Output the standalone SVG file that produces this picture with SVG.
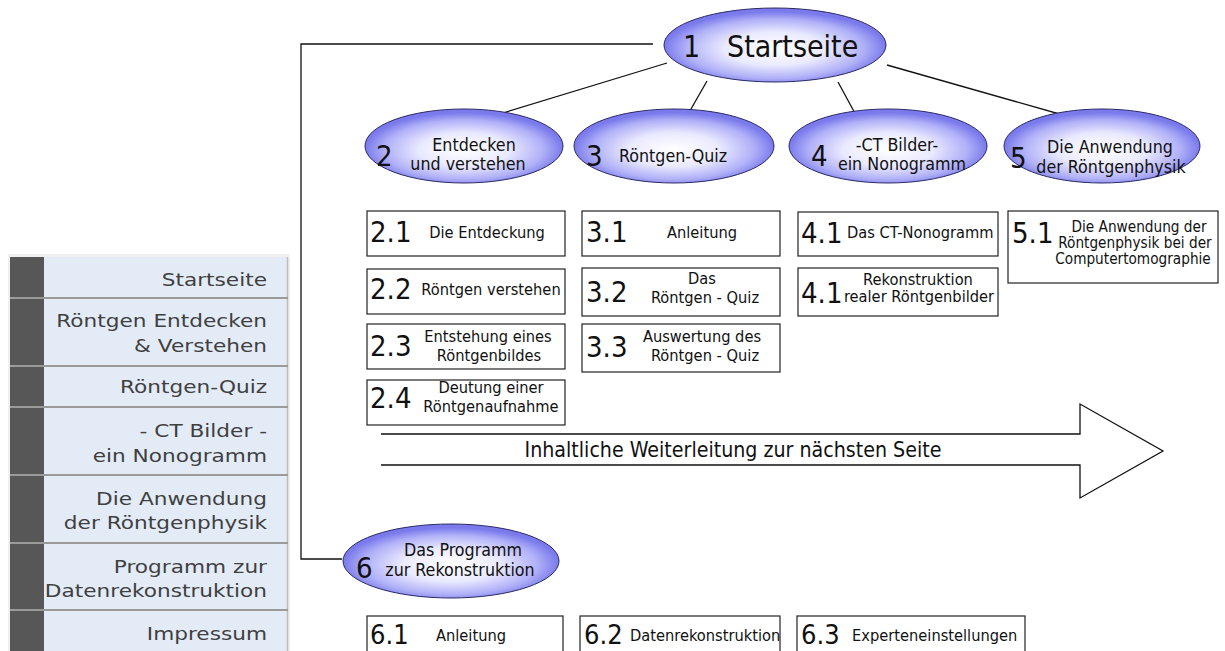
<svg xmlns="http://www.w3.org/2000/svg" width="1225" height="651" viewBox="0 0 1225 651">
<defs>
<radialGradient id="eg" cx="0.5" cy="0.55" r="0.5">
<stop offset="0" stop-color="#ffffff"/>
<stop offset="0.45" stop-color="#eaeaff"/>
<stop offset="0.8" stop-color="#b0b0f8"/>
<stop offset="1" stop-color="#7a7aec"/>
</radialGradient>
</defs>
<style>
.ell{fill:url(#eg);stroke:#2a2a66;stroke-width:1}
.box{fill:#fff;stroke:#222;stroke-width:1.2}
.con{fill:none;stroke:#111;stroke-width:1.3}
text{font-family:"DejaVu Sans Condensed","DejaVu Sans",sans-serif;font-stretch:condensed;fill:#111}
.big{font-size:30px}
.num{font-size:29px}
.num6{font-size:27px}
.et{font-size:17.7px}
.bt{font-size:16.3px}
.st{font-size:15.2px}
.side{font-family:"DejaVu Sans",Verdana,sans-serif;font-stretch:normal;font-size:18.5px;fill:#3f3f3f}
.sep{stroke:#9a9a9a;stroke-width:2}
</style>
<rect width="1225" height="651" fill="#fff"/>

<g id="sidebar">
<rect x="8" y="254" width="282" height="397" fill="#f0f0f0"/>
<rect x="10" y="257" width="278" height="394" fill="#e3ebf7"/>
<rect x="10" y="257" width="34" height="394" fill="#575757"/>
<line x1="287.5" y1="257" x2="287.5" y2="651" stroke="#bcbcbc" stroke-width="1.5"/>
<line class="sep" x1="10" y1="298" x2="288" y2="298"/>
<line class="sep" x1="10" y1="366" x2="288" y2="366"/>
<line class="sep" x1="10" y1="407" x2="288" y2="407"/>
<line class="sep" x1="10" y1="475" x2="288" y2="475"/>
<line class="sep" x1="10" y1="543" x2="288" y2="543"/>
<line class="sep" x1="10" y1="610" x2="288" y2="610"/>
<g transform="translate(267,0) scale(1.17,1)" text-anchor="end">
<text class="side" x="0" y="286">Startseite</text>
<text class="side" x="0" y="327">Röntgen Entdecken</text>
<text class="side" x="0" y="352">&amp; Verstehen</text>
<text class="side" x="0" y="393">Röntgen-Quiz</text>
<text class="side" x="0" y="437">- CT Bilder - </text>
<text class="side" x="0" y="462">ein Nonogramm</text>
<text class="side" x="0" y="505">Die Anwendung</text>
<text class="side" x="0" y="529">der Röntgenphysik</text>
<text class="side" x="0" y="573">Programm zur </text>
<text class="side" x="0" y="597">Datenrekonstruktion</text>
<text class="side" x="0" y="640">Impressum</text>
</g>
</g>

<g id="connectors">
<polyline class="con" points="653,44 301,44 301,559 342,559"/>
<line class="con" x1="667" y1="63" x2="493" y2="116"/>
<line class="con" x1="707" y1="81" x2="687" y2="116"/>
<line class="con" x1="838" y1="82" x2="857" y2="117"/>
<line class="con" x1="887" y1="65" x2="1070" y2="117"/>
</g>

<g id="n1">
<ellipse class="ell" cx="775" cy="45" rx="111" ry="37"/>
<text class="big" x="683" y="57">1</text>
<text class="big" x="727" y="57">Startseite</text>
</g>

<g id="n2">
<ellipse class="ell" cx="464" cy="146" rx="99" ry="37"/>
<text class="num" x="376" y="166">2</text>
<text class="et" x="474" y="151" text-anchor="middle">Entdecken</text>
<text class="et" x="468" y="170" text-anchor="middle">und verstehen</text>
</g>

<g id="n3">
<ellipse class="ell" cx="674" cy="146" rx="100" ry="37"/>
<text class="num" x="586" y="166">3</text>
<text class="et" x="619" y="162">Röntgen-Quiz</text>
</g>

<g id="n4">
<ellipse class="ell" cx="888" cy="146" rx="99" ry="37"/>
<text class="num" x="811" y="166">4</text>
<text class="et" x="897" y="151" text-anchor="middle">-CT Bilder-</text>
<text class="et" x="902" y="170" text-anchor="middle">ein Nonogramm</text>
</g>

<g id="n5">
<ellipse class="ell" cx="1102" cy="146" rx="98" ry="37"/>
<text class="num" x="1010" y="168">5</text>
<text class="et" x="1110" y="153" text-anchor="middle">Die Anwendung</text>
<text class="et" x="1111" y="173" text-anchor="middle">der Röntgenphysik</text>
</g>

<g id="n6">
<ellipse class="ell" cx="451" cy="561" rx="108" ry="37"/>
<text class="num" x="356" y="578">6</text>
<text class="et" x="463" y="556" text-anchor="middle">Das Programm</text>
<text class="et" x="460" y="576" text-anchor="middle">zur Rekonstruktion</text>
</g>

<g id="n2_1">
<rect class="box" x="367" y="211" width="198" height="45"/>
<text class="num" x="370" y="242">2.1</text>
<text class="bt" x="487" y="238" text-anchor="middle">Die Entdeckung</text>
</g>
<g id="n2_2">
<rect class="box" x="367" y="269" width="198" height="45"/>
<text class="num" x="370" y="299">2.2</text>
<text class="bt" x="491" y="295" text-anchor="middle">Röntgen verstehen</text>
</g>
<g id="n2_3">
<rect class="box" x="367" y="324" width="198" height="45"/>
<text class="num" x="370" y="356">2.3</text>
<text class="bt" x="488" y="342" text-anchor="middle">Entstehung eines</text>
<text class="bt" x="489" y="361" text-anchor="middle">Röntgenbildes</text>
</g>
<g id="n2_4">
<rect class="box" x="367" y="380" width="198" height="45"/>
<text class="num" x="370" y="408">2.4</text>
<text class="bt" x="491" y="393" text-anchor="middle">Deutung einer</text>
<text class="bt" x="491" y="412" text-anchor="middle">Röntgenaufnahme</text>
</g>

<g id="n3_1">
<rect class="box" x="582" y="211" width="198" height="45"/>
<text class="num" x="586" y="242">3.1</text>
<text class="bt" x="702" y="238" text-anchor="middle">Anleitung</text>
</g>
<g id="n3_2">
<rect class="box" x="582" y="268" width="198" height="48"/>
<text class="num" x="586" y="302">3.2</text>
<text class="bt" x="702" y="284" text-anchor="middle">Das</text>
<text class="bt" x="705" y="303" text-anchor="middle">Röntgen - Quiz</text>
</g>
<g id="n3_3">
<rect class="box" x="582" y="324" width="198" height="48"/>
<text class="num" x="586" y="357">3.3</text>
<text class="bt" x="702" y="342" text-anchor="middle">Auswertung des</text>
<text class="bt" x="705" y="361" text-anchor="middle">Röntgen - Quiz</text>
</g>

<g id="n4_1">
<rect class="box" x="798" y="212" width="200" height="44"/>
<text class="num" x="801" y="243">4.1</text>
<text class="bt" x="847" y="238">Das CT-Nonogramm</text>
</g>
<g id="n4_2">
<rect class="box" x="798" y="268" width="200" height="48"/>
<text class="num" x="801" y="303">4.1</text>
<text class="bt" x="918" y="285" text-anchor="middle">Rekonstruktion</text>
<text class="bt" x="919" y="302" text-anchor="middle">realer Röntgenbilder</text>
</g>

<g id="n5_1">
<rect class="box" x="1008" y="211" width="210" height="72"/>
<text class="num" x="1012" y="243">5.1</text>
<text class="st" x="1139" y="232" text-anchor="middle">Die Anwendung der</text>
<text class="st" x="1135" y="248" text-anchor="middle">Röntgenphysik bei der</text>
<text class="st" x="1133" y="264" text-anchor="middle">Computertomographie</text>
</g>

<g id="arrow">
<path d="M381,434 L1080,434 L1080,404 L1163,451 L1080,498 L1080,465 L381,465" fill="#fff" stroke="#111" stroke-width="1.3" stroke-linejoin="miter"/>
<text x="733" y="457" font-size="21.2" text-anchor="middle">Inhaltliche Weiterleitung zur nächsten Seite</text>
</g>

<g id="n6_1">
<rect class="box" x="367" y="616" width="196" height="45"/>
<text class="num6" x="370" y="644">6.1</text>
<text class="bt" x="471" y="641" text-anchor="middle">Anleitung</text>
</g>
<g id="n6_2">
<rect class="box" x="580" y="616" width="200" height="45"/>
<text class="num6" x="584" y="644">6.2</text>
<text class="bt" x="630" y="641">Datenrekonstruktion</text>
</g>
<g id="n6_3">
<rect class="box" x="797" y="616" width="228" height="45"/>
<text class="num6" x="801" y="644">6.3</text>
<text class="bt" x="852" y="641">Experteneinstellungen</text>
</g>
</svg>
